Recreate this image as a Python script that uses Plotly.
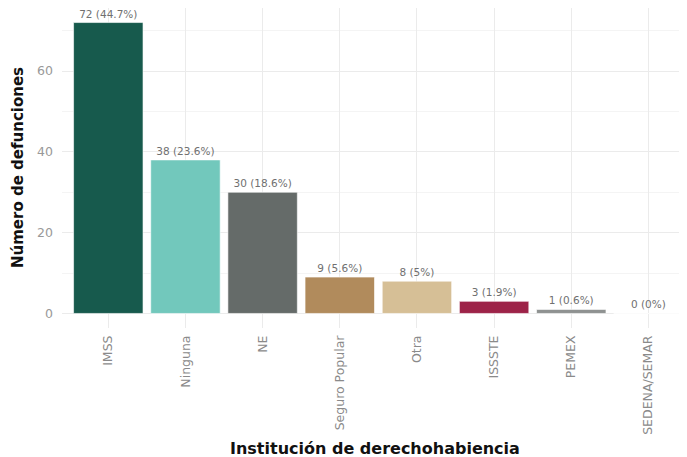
import plotly.graph_objects as go

categories = ["IMSS", "Ninguna", "NE", "Seguro Popular", "Otra", "ISSSTE", "PEMEX", "SEDENA/SEMAR"]
values = [72, 38, 30, 9, 8, 3, 1, 0]
labels = ["72 (44.7%)", "38 (23.6%)", "30 (18.6%)", "9 (5.6%)", "8 (5%)", "3 (1.9%)", "1 (0.6%)", "0 (0%)"]
colors = ["#175a4d", "#72c8bc", "#656b69", "#b18b5c", "#d6bf96", "#9d2348", "#8f9291", "#cccccc"]
y_ticks = [0, 20, 40, 60]

# page body has an 8px margin; size the figure to fit inside the window
OFF = 8
W, H = 687 - OFF, 457 - OFF
ML, MR, MT, MB = 62 - OFF, 0, 8 - OFF, 457 - 328

fig = go.Figure()
fig.add_trace(go.Bar(
    x=list(range(len(categories))),
    y=values,
    width=0.9,
    marker=dict(color=colors, line=dict(color="rgba(255,255,255,0.6)", width=1)),
    text=labels,
    textposition="outside",
    textfont=dict(family="DejaVu Sans", size=10.5, color="#707070"),
    cliponaxis=False,
    hoverinfo="skip",
))

fig.update_layout(
    width=W, height=H,
    margin=dict(l=ML, r=MR, t=MT, b=MB, autoexpand=False),
    plot_bgcolor="white", paper_bgcolor="white",
    showlegend=False,
    bargap=0.1,
    annotations=[
        dict(text="<b>Institución de derechohabiencia</b>", xref="paper", yref="paper",
             x=0.5, y=-(448 - 328) / (H - MT - MB), xanchor="center", yanchor="middle",
             showarrow=False, font=dict(family="DejaVu Sans", size=16, color="#111111")),
        dict(text="<b>Número de defunciones</b>", xref="paper", yref="paper",
             x=-(62 - 18) / (W - ML - MR), y=0.5, xanchor="center", yanchor="middle",
             textangle=-90, showarrow=False,
             font=dict(family="DejaVu Sans", size=15, color="#111111")),
    ],
)
fig.update_xaxes(
    tickmode="array", tickvals=list(range(len(categories))), ticktext=categories,
    range=[-0.6, 7.5],
    tickangle=-90,
    tickfont=dict(family="DejaVu Sans", size=12.5, color="#8a8a8a"),
    showgrid=True, gridcolor="#ebebeb", gridwidth=1,
    zeroline=False, showline=False, ticks="",
    ticklabelstandoff=4,
    automargin=False,
)
fig.update_yaxes(
    range=[-3.6, 75.6],
    tickmode="array", tickvals=y_ticks,
    tickfont=dict(family="DejaVu Sans", size=12.5, color="#999999"),
    showgrid=True, gridcolor="#ebebeb", gridwidth=1,
    minor=dict(tickvals=[10, 30, 50, 70], showgrid=True, gridcolor="#f4f4f4", gridwidth=1),
    zeroline=False, showline=False, ticks="",
    ticklabelstandoff=8,
    automargin=False,
)

fig.write_html("out.html")
